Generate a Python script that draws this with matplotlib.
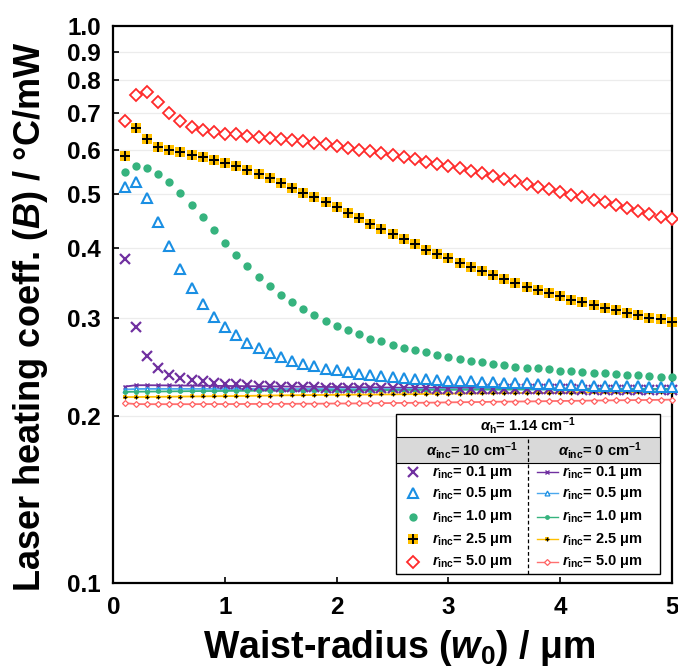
import matplotlib

matplotlib.use("Agg")
import matplotlib.pyplot as plt
from matplotlib.patches import Rectangle
from matplotlib.lines import Line2D

plt.rcParams["font.family"] = ["Liberation Sans", "DejaVu Sans"]
plt.rcParams["font.weight"] = "bold"
plt.rcParams["mathtext.fontset"] = "custom"
plt.rcParams["mathtext.rm"] = "Liberation Sans:bold"
plt.rcParams["mathtext.bf"] = "Liberation Sans:bold"
plt.rcParams["mathtext.it"] = "Liberation Sans:italic:bold"

# waist radius w0 (um)
w0 = [0.1, 0.2, 0.3, 0.4, 0.5, 0.6, 0.7, 0.8, 0.9, 1.0,
      1.1, 1.2, 1.3, 1.4, 1.5, 1.6, 1.7, 1.8, 1.9, 2.0,
      2.1, 2.2, 2.3, 2.4, 2.5, 2.6, 2.7, 2.8, 2.9, 3.0,
      3.1, 3.2, 3.3, 3.4, 3.5, 3.6, 3.7, 3.8, 3.9, 4.0,
      4.1, 4.2, 4.3, 4.4, 4.5, 4.6, 4.7, 4.8, 4.9, 5.0]

r_inc = ["0.1", "0.5", "1.0", "2.5", "5.0"]

# alpha_inc = 10 cm-1
b10_r01 = [0.382, 0.288, 0.256, 0.244, 0.237, 0.234, 0.2315, 0.2305, 0.229, 0.228,
           0.2275, 0.2267, 0.2262, 0.2258, 0.2255, 0.2252, 0.2250, 0.2248, 0.2246, 0.2245,
           0.2244, 0.2243, 0.2242, 0.2241, 0.2240, 0.2239, 0.2238, 0.2238, 0.2237, 0.2236,
           0.2236, 0.2235, 0.2234, 0.2234, 0.2233, 0.2232, 0.2232, 0.2231, 0.2230, 0.2230,
           0.2229, 0.2228, 0.2228, 0.2227, 0.2226, 0.2226, 0.2225, 0.2224, 0.2224, 0.2223]
b10_r05 = [0.515, 0.525, 0.491, 0.446, 0.403, 0.366, 0.339, 0.317, 0.301, 0.288,
           0.279, 0.270, 0.264, 0.259, 0.255, 0.251, 0.248, 0.2455, 0.243, 0.2415,
           0.240, 0.238, 0.237, 0.2356, 0.2343, 0.2337, 0.2330, 0.2324, 0.2317, 0.2311,
           0.2308, 0.2305, 0.2298, 0.2295, 0.2292, 0.2289, 0.2286, 0.2279, 0.2276, 0.2273,
           0.2270, 0.2267, 0.2264, 0.2261, 0.2261, 0.2258, 0.2258, 0.2255, 0.2255, 0.2252]
b10_r10 = [0.547, 0.561, 0.557, 0.544, 0.525, 0.503, 0.478, 0.454, 0.430, 0.408,
           0.389, 0.371, 0.355, 0.342, 0.330, 0.320, 0.311, 0.303, 0.296, 0.290,
           0.285, 0.280, 0.275, 0.272, 0.268, 0.265, 0.262, 0.260, 0.257, 0.255,
           0.253, 0.251, 0.2496, 0.248, 0.2465, 0.245, 0.2438, 0.2432, 0.2422, 0.2408,
           0.2402, 0.2395, 0.2389, 0.2382, 0.2376, 0.2369, 0.2363, 0.2357, 0.2350, 0.2344]
b10_r25 = [0.586, 0.656, 0.628, 0.607, 0.599, 0.594, 0.587, 0.582, 0.576, 0.569,
           0.561, 0.553, 0.542, 0.534, 0.524, 0.513, 0.503, 0.493, 0.483, 0.473,
           0.462, 0.452, 0.442, 0.432, 0.423, 0.415, 0.406, 0.397, 0.390, 0.384,
           0.376, 0.370, 0.363, 0.358, 0.352, 0.346, 0.341, 0.336, 0.332, 0.328,
           0.323, 0.320, 0.316, 0.312, 0.309, 0.306, 0.303, 0.300, 0.298, 0.295]
b10_r50 = [0.676, 0.754, 0.762, 0.732, 0.699, 0.675, 0.660, 0.651, 0.647, 0.642,
           0.640, 0.635, 0.633, 0.631, 0.628, 0.625, 0.622, 0.618, 0.615, 0.610,
           0.605, 0.601, 0.597, 0.593, 0.587, 0.582, 0.577, 0.571, 0.567, 0.561,
           0.556, 0.550, 0.545, 0.539, 0.533, 0.528, 0.522, 0.515, 0.510, 0.505,
           0.498, 0.493, 0.487, 0.483, 0.477, 0.472, 0.466, 0.461, 0.455, 0.451]

# alpha_inc = 0 cm-1
b0_r01 = [0.2255, 0.2268, 0.2268, 0.2267, 0.2266, 0.2265, 0.2264, 0.2263, 0.2262, 0.2261,
          0.2260, 0.2259, 0.2258, 0.2257, 0.2256, 0.2255, 0.2254, 0.2253, 0.2252, 0.2251,
          0.2250, 0.2249, 0.2248, 0.2247, 0.2246, 0.2245, 0.2245, 0.2244, 0.2243, 0.2243,
          0.2242, 0.2242, 0.2241, 0.2240, 0.2240, 0.2239, 0.2239, 0.2238, 0.2238, 0.2237,
          0.2237, 0.2236, 0.2236, 0.2235, 0.2235, 0.2234, 0.2234, 0.2234, 0.2233, 0.2233]
b0_r05 = [0.2228, 0.2233, 0.2234, 0.2234, 0.2234, 0.2234, 0.2234, 0.2234, 0.2234, 0.2233,
          0.2233, 0.2233, 0.2233, 0.2233, 0.2233, 0.2233, 0.2233, 0.2233, 0.2232, 0.2232,
          0.2232, 0.2232, 0.2232, 0.2232, 0.2232, 0.2232, 0.2232, 0.2231, 0.2231, 0.2231,
          0.2231, 0.2231, 0.2231, 0.2231, 0.2231, 0.2231, 0.2231, 0.2230, 0.2230, 0.2230,
          0.2230, 0.2230, 0.2230, 0.2230, 0.2230, 0.2230, 0.2230, 0.2230, 0.2230, 0.2230]
b0_r10 = [0.2206, 0.2208, 0.2209, 0.2210, 0.2211, 0.2212, 0.2213, 0.2214, 0.2214, 0.2215,
          0.2216, 0.2216, 0.2217, 0.2218, 0.2218, 0.2219, 0.2219, 0.2220, 0.2220, 0.2221,
          0.2221, 0.2222, 0.2222, 0.2223, 0.2223, 0.2224, 0.2224, 0.2225, 0.2225, 0.2225,
          0.2226, 0.2226, 0.2227, 0.2227, 0.2227, 0.2228, 0.2228, 0.2229, 0.2229, 0.2229,
          0.2230, 0.2230, 0.2230, 0.2231, 0.2231, 0.2231, 0.2232, 0.2232, 0.2232, 0.2233]
b0_r25 = [0.2160, 0.2160, 0.2161, 0.2162, 0.2163, 0.2164, 0.2165, 0.2166, 0.2167, 0.2168,
          0.2169, 0.2170, 0.2172, 0.2173, 0.2175, 0.2176, 0.2177, 0.2178, 0.2179, 0.2180,
          0.2181, 0.2182, 0.2182, 0.2183, 0.2184, 0.2185, 0.2186, 0.2188, 0.2189, 0.2190,
          0.2191, 0.2192, 0.2193, 0.2194, 0.2195, 0.2196, 0.2197, 0.2197, 0.2198, 0.2199,
          0.2200, 0.2201, 0.2202, 0.2202, 0.2203, 0.2204, 0.2204, 0.2205, 0.2205, 0.2206]
b0_r50 = [0.2106, 0.2098, 0.2097, 0.2097, 0.2097, 0.2097, 0.2097, 0.2098, 0.2098, 0.2098,
          0.2098, 0.2099, 0.2099, 0.2099, 0.2100, 0.2100, 0.2101, 0.2101, 0.2102, 0.2103,
          0.2103, 0.2104, 0.2105, 0.2106, 0.2107, 0.2108, 0.2109, 0.2110, 0.2111, 0.2113,
          0.2114, 0.2115, 0.2116, 0.2118, 0.2119, 0.2120, 0.2121, 0.2122, 0.2124, 0.2125,
          0.2126, 0.2127, 0.2129, 0.2130, 0.2131, 0.2132, 0.2133, 0.2134, 0.2135, 0.2137]

y_ticks = [0.1, 0.2, 0.3, 0.4, 0.5, 0.6, 0.7, 0.8, 0.9, 1.0]
y_ticklabels = ["0.1", "0.2", "0.3", "0.4", "0.5", "0.6", "0.7", "0.8", "0.9", "1.0"]
x_ticks = [0, 1, 2, 3, 4, 5]

PURPLE = "#7030A0"
BLUE = "#1A8FE3"
GREEN = "#36B37E"
GOLD = "#FFC000"
RED = "#FF2A2A"

# marker-only style for alpha_inc = 10, line+small marker for alpha_inc = 0
style10 = [
    dict(marker="x", ms=6.5, mew=1.6, color=PURPLE),
    dict(marker="^", ms=7, mew=1.5, mfc="white", mec=BLUE, color=BLUE),
    dict(marker="o", ms=6, mew=0, color=GREEN),
    dict(marker="s", ms=6.5, mew=0, color=GOLD),
    dict(marker="D", ms=5.8, mew=1.3, mfc="white", mec=RED, color=RED),
]
style0 = [
    dict(marker="x", ms=3.5, mew=1.0, color=PURPLE, lw=1.3),
    dict(marker="^", ms=3.5, mew=0.9, mfc="white", mec=BLUE, color="#4AA8EE", lw=1.3),
    dict(marker="o", ms=3.5, mew=0, color=GREEN, lw=1.3),
    dict(marker="s", ms=3.5, mew=0, color=GOLD, lw=1.3),
    dict(marker="D", ms=3.0, mew=0.9, mfc="white", mec="#FF6060", color="#FF7070", lw=1.3),
]
plus10 = dict(marker="+", ms=6.5, mew=1.4, color="black")
plus0 = dict(marker="+", ms=3.5, mew=0.9, color="black")

series10 = [b10_r01, b10_r05, b10_r10, b10_r25, b10_r50]
series0 = [b0_r01, b0_r05, b0_r10, b0_r25, b0_r50]

fig = plt.figure(figsize=(6.78, 6.67), dpi=100)
ax = fig.add_axes([0.1674, 0.1255, 0.8233, 0.835])

for i, b in enumerate(series0):
    ax.plot(w0, b, clip_on=False, zorder=3, **style0[i])
    if i == 3:
        ax.plot(w0, b, ls="none", clip_on=False, zorder=3.1, **plus0)
for i, b in enumerate(series10):
    ax.plot(w0, b, ls="none", clip_on=False, zorder=4, **style10[i])
    if i == 3:
        ax.plot(w0, b, ls="none", clip_on=False, zorder=4.1, **plus10)

ax.set_yscale("log")
ax.set_ylim(0.1, 1.0)
ax.set_xlim(0, 5)
ax.set_yticks(y_ticks)
ax.set_yticklabels(y_ticklabels)
ax.yaxis.set_minor_locator(matplotlib.ticker.NullLocator())
ax.set_xticks(x_ticks)
ax.tick_params(direction="in", length=4, width=1.2, labelsize=17.5)
ax.tick_params(axis="x", pad=9)
ax.tick_params(axis="y", pad=9)
for lab in ax.get_xticklabels() + ax.get_yticklabels():
    lab.set_fontweight("bold")
for y in y_ticks[1:-1]:
    ax.axhline(y, color="#ECECEC", lw=0.9, zorder=0)
for s in ax.spines.values():
    s.set_linewidth(1.6)

ax.set_xlabel(r"Waist-radius ($w_0$) / μm", fontsize=27, fontweight="bold", va="center")
ax.set_ylabel(r"Laser heating coeff. ($B$) / °C/mW", fontsize=26, fontweight="bold",
              va="center")
ax.xaxis.set_label_coords(0.511, -0.117)
ax.yaxis.set_label_coords(-0.148, 0.478)

# custom legend table
T = ax.transAxes
L, R, TOP, BOT = 0.506, 0.979, 0.304, 0.017
ROW1, ROW2 = 0.263, 0.2154
MID = 0.743
ax.add_patch(Rectangle((L, BOT), R - L, TOP - BOT, transform=T, fc="white", ec="black",
                       lw=1.0, zorder=10, clip_on=False))
ax.add_patch(Rectangle((L, ROW2), R - L, ROW1 - ROW2, transform=T, fc="#D9D9D9", ec="black",
                       lw=0.8, zorder=10.1, clip_on=False))
ax.add_line(Line2D([MID, MID], [BOT, ROW1], transform=T, color="black", lw=0.9,
                   ls=(0, (3, 2)), zorder=10.2, clip_on=False))
ax.text((L + R) / 2, (TOP + ROW1) / 2, r"$\alpha_{\mathrm{h}}$= 1.14 cm$^{-1}$", transform=T,
        ha="center", va="center", fontsize=10.5, fontweight="bold", zorder=11)
ax.text(0.642, (ROW1 + ROW2) / 2, r"$\alpha_{\mathrm{inc}}$= 10 cm$^{-1}$", transform=T,
        ha="center", va="center", fontsize=10.5, fontweight="bold", zorder=11)
ax.text(0.872, (ROW1 + ROW2) / 2, r"$\alpha_{\mathrm{inc}}$= 0 cm$^{-1}$", transform=T,
        ha="center", va="center", fontsize=10.5, fontweight="bold", zorder=11)

row_y = [0.1993, 0.1616, 0.1196, 0.079, 0.0388]
for i, yy in enumerate(row_y):
    label = r"$r_{\mathrm{inc}}$= " + r_inc[i] + " μm"
    st10 = dict(style10[i])
    ax.plot([0.536], [yy], transform=T, ls="none", zorder=11, clip_on=False, **st10)
    st0 = dict(style0[i])
    ax.plot([0.758, 0.797], [yy, yy], transform=T, marker="none", color=st0["color"],
            lw=1.0, zorder=11, clip_on=False)
    st0.pop("lw")
    ax.plot([0.7775], [yy], transform=T, ls="none", zorder=11.1, clip_on=False, **st0)
    if i == 3:
        ax.plot([0.536], [yy], transform=T, ls="none", zorder=11.2, clip_on=False, **plus10)
        ax.plot([0.7775], [yy], transform=T, ls="none", zorder=11.2, clip_on=False, **plus0)
    ax.text(0.570, yy, label, transform=T, ha="left", va="center", fontsize=10.5,
            fontweight="bold", zorder=11)
    ax.text(0.803, yy, label, transform=T, ha="left", va="center", fontsize=10.5,
            fontweight="bold", zorder=11)

fig.savefig("out.png", dpi=100)
